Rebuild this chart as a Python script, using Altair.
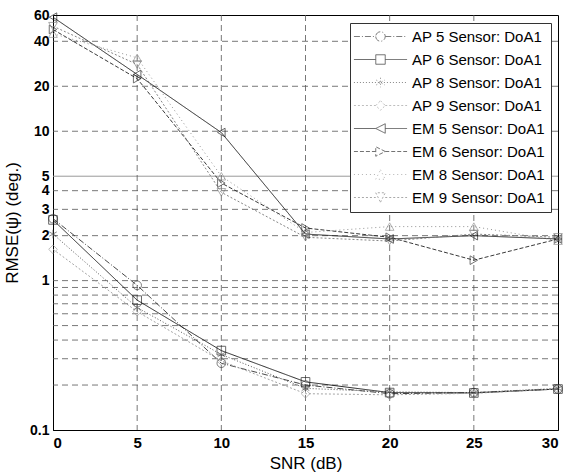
import altair as alt
import pandas as pd

snr = [0, 5, 10, 15, 20, 25, 30]

series_names = [
    "AP 5 Sensor: DoA1", "AP 6 Sensor: DoA1", "AP 8 Sensor: DoA1", "AP 9 Sensor: DoA1",
    "EM 5 Sensor: DoA1", "EM 6 Sensor: DoA1", "EM 8 Sensor: DoA1", "EM 9 Sensor: DoA1",
]
ap5 = [2.6, 0.93, 0.28, 0.20, 0.175, 0.178, 0.188]
ap6 = [2.55, 0.74, 0.34, 0.21, 0.178, 0.177, 0.188]
ap8 = [2.05, 0.66, 0.32, 0.19, 0.18, 0.178, 0.19]
ap9 = [1.62, 0.62, 0.29, 0.175, 0.172, 0.176, 0.188]
em5 = [58, 24, 9.8, 2.05, 1.9, 2.0, 1.9]
em6 = [48, 22.5, 4.5, 2.25, 1.95, 1.37, 1.9]
em8 = [45, 31, 5.0, 2.1, 2.3, 2.3, 1.85]
em9 = [50.5, 28, 3.9, 1.95, 1.84, 2.05, 1.95]
series_values = [ap5, ap6, ap8, ap9, em5, em6, em8, em9]

y_tick_values = [0.1, 1, 2, 3, 4, 5, 10, 20, 40, 60]
y_grid_dashed = [0.2, 0.3, 0.4, 0.5, 0.6, 0.7, 0.8, 0.9, 1, 2, 3, 4, 10, 20, 40]
y_grid_solid = [5]
x_tick_values = [0, 5, 10, 15, 20, 25, 30]
x_grid_values = [5, 10, 15, 20, 25]

# marker shapes
aster_p = "M0,-1L0,1M-0.87,-0.5L0.87,0.5M-0.87,0.5L0.87,-0.5"
marker_shapes = ["circle", "square", aster_p, "diamond",
                 "triangle-left", "triangle-right", "triangle-up", "triangle-down"]
# legend symbols: marker with a short line through it (unit box -1..1)
circle_p = "M-1,0A1,1 0 1,0 1,0A1,1 0 1,0 -1,0"
square_p = "M-1,-1L1,-1L1,1L-1,1Z"
diamond_p = "M0,-1L1,0L0,1L-1,0Z"
tleft_p = "M-1,0L1,-1L1,1Z"
tright_p = "M1,0L-1,-1L-1,1Z"
tup_p = "M0,-1L1,1L-1,1Z"
tdown_p = "M0,1L1,-1L-1,-1Z"
stub = "M-5.6,0L-1,0M1,0L5.6,0"
legend_paths = [circle_p + stub, square_p + stub, "M-5.6,0L5.6,0" + aster_p,
                diamond_p + stub, tleft_p + stub, tright_p + stub,
                tup_p + stub, tdown_p + stub]

colors = ["#333333", "#111111", "#444444", "#999999",
          "#111111", "#222222", "#888888", "#777777"]
dashes = [[6, 2, 1, 2], [1, 0], [1, 2], [2, 2],
          [1, 0], [4, 2], [1, 3], [2, 2]]

rows = []
for name, vals in zip(series_names, series_values):
    for x, v in zip(snr, vals):
        rows.append({"SNR": x, "RMSE": v, "series": name})
df = pd.DataFrame(rows)

FONT = "Liberation Sans"
x_scale = alt.Scale(domain=[0, 30], nice=False, zero=False)
y_scale = alt.Scale(type="log", domain=[0.1, 60], nice=False)

legend = alt.Legend(orient="none", legendX=297, legendY=8, fillColor="white",
                    strokeColor="#333333",
                    padding=6, labelFont=FONT, labelFontSize=15, labelColor="#000000",
                    symbolSize=90, rowPadding=7, symbolStrokeWidth=0.9,
                    symbolFillColor="transparent", symbolOffset=17, labelOffset=24,
                    title=None)

color_scale = alt.Scale(domain=series_names, range=colors)
dash_scale = alt.Scale(domain=series_names, range=dashes)

ygrid = alt.Chart(pd.DataFrame({"v": y_grid_dashed})).mark_rule(
    strokeDash=[6, 4], color="#555555", strokeWidth=0.8
).encode(y=alt.Y("v:Q", scale=y_scale))

ygrid_solid = alt.Chart(pd.DataFrame({"v": y_grid_solid})).mark_rule(
    color="#999999", strokeWidth=1
).encode(y=alt.Y("v:Q", scale=y_scale))

xgrid = alt.Chart(pd.DataFrame({"v": x_grid_values})).mark_rule(
    strokeDash=[6, 4], color="#555555", strokeWidth=0.8
).encode(x=alt.X("v:Q", scale=x_scale))

x_enc = alt.X("SNR:Q", scale=x_scale,
              axis=alt.Axis(values=x_tick_values, title="SNR (dB)", grid=False,
                            tickSize=0, labelPadding=5, titlePadding=5))
y_axis = alt.Axis(values=y_tick_values, title="RMSE(ψ)    (deg.)", grid=False,
                  format="~g", tickSize=0, labelPadding=4, titlePadding=8,
                  labelOverlap=False, labelFontSize=14)

base = alt.Chart(df).encode(x=x_enc, y=alt.Y("RMSE:Q", scale=y_scale, axis=y_axis))

lines = base.mark_line(strokeWidth=0.9).encode(
    color=alt.Color("series:N", scale=color_scale, legend=legend),
    strokeDash=alt.StrokeDash("series:N", scale=dash_scale, legend=legend),
)

point_layers = []
for name, shp, col in zip(series_names, marker_shapes, colors):
    point_layers.append(
        base.transform_filter(alt.datum.series == name).mark_point(
            shape=shp, size=75, filled=False, strokeWidth=0.9, color=col
        )
    )

# legend-only layer: same rows, pushed far outside the y domain and clipped away
legend_layer = alt.Chart(df).transform_calculate(off="datum.RMSE * 1e6").mark_point(
    size=90, filled=False, clip=True
).encode(
    x=x_enc,
    y=alt.Y("off:Q", scale=y_scale, axis=y_axis),
    color=alt.Color("series:N", scale=color_scale, legend=legend),
    strokeDash=alt.StrokeDash("series:N", scale=dash_scale, legend=legend),
    shape=alt.Shape("series:N", scale=alt.Scale(domain=series_names, range=legend_paths),
                    legend=legend),
)

chart = alt.layer(ygrid, ygrid_solid, xgrid, lines, *point_layers, legend_layer).properties(
    width=572, height=475,
    autosize=alt.AutoSizeParams(type="fit", contains="padding"),
    padding={"left": 3, "top": 8, "right": 7, "bottom": 4},
).configure_view(
    stroke="#000000", strokeWidth=1
).configure_axis(
    labelFont=FONT, titleFont=FONT, labelFontSize=15, titleFontSize=17,
    labelColor="#000000", titleColor="#000000", titleFontWeight="normal",
    domainColor="#000000", labelFontWeight="bold",
)

chart.save("out.html", embed_options={"renderer": "svg", "actions": False})
